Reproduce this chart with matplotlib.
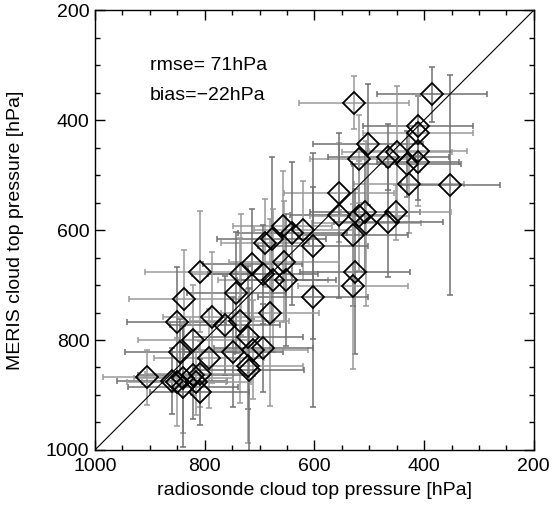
# MERIS vs radiosonde cloud top pressure scatter
import numpy as np
import matplotlib
matplotlib.use("Agg")
import matplotlib.pyplot as plt

plt.rcParams['font.family'] = ['Liberation Sans', 'DejaVu Sans']

# radiosonde (x) and MERIS (y) cloud top pressure, hPa
radiosonde = [386, 528, 411, 411, 502, 518, 465, 450, 432, 411, 411, 427, 352,
              555, 555, 518, 508, 505, 465, 451, 529, 658, 640, 620, 602, 690,
              678, 809, 713, 733, 693, 675, 651, 656, 526, 530, 602, 838, 742,
              681, 851, 786, 763, 736, 721, 821, 845, 792, 748, 711, 693, 721,
              719, 905, 860, 839, 821, 809, 839, 815, 809, 851]
meris = [353, 368, 411, 424, 444, 470, 467, 458, 479, 456, 476, 516, 518,
         532, 573, 575, 567, 588, 585, 568, 609, 593, 606, 600, 629, 623,
         617, 676, 662, 680, 680, 691, 690, 658, 676, 702, 722, 726, 714,
         750, 767, 759, 773, 765, 795, 800, 821, 833, 821, 818, 815, 848,
         855, 868, 875, 870, 864, 861, 885, 876, 894, 876]
radiosonde_err = [100, 100, 100, 100, 100, 90, 110, 100, 100, 90, 75, 100, 90,
                  100, 90, 90, 100, 100, 100, 100, 100, 90, 100, 90, 100, 80,
                  100, 100, 90, 90, 100, 100, 90, 100, 100, 100, 100, 100, 90,
                  90, 90, 90, 100, 90, 100, 100, 100, 100, 90, 100, 90, 100,
                  100, 80, 100, 90, 100, 100, 100, 100, 90, 90]
meris_err = [50, 48, 55, 70, 110, 80, 60, 120, 60, 100, 70, 90, 200,
             90, 150, 100, 110, 150, 100, 50, 130, 100, 130, 90, 170, 80,
             150, 110, 100, 110, 90, 130, 120, 110, 150, 150, 200, 90, 110,
             170, 100, 120, 90, 150, 130, 100, 60, 90, 100, 90, 80, 140,
             150, 50, 60, 100, 80, 60, 110, 60, 60, 80]

fig = plt.figure(figsize=(5.52, 5.09), dpi=100)
ax = fig.add_axes([0.172, 0.116, 0.795, 0.864])

shades = ['#707070', '#9a9a9a']
for i in range(len(radiosonde)):
    ax.errorbar(radiosonde[i], meris[i], xerr=radiosonde_err[i], yerr=meris_err[i],
                fmt='none', ecolor=shades[i % 2], elinewidth=1.1, capsize=2.5,
                capthick=1.1, zorder=2)

ax.plot(radiosonde, meris, linestyle='none', marker='D', markersize=11,
        markerfacecolor='none', markeredgecolor='black', markeredgewidth=1.3,
        zorder=3)

ax.plot([1000, 200], [1000, 200], color='black', linewidth=0.8, zorder=4)

ax.set_xlim(1000, 200)
ax.set_ylim(1000, 200)
ax.set_xticks([1000, 800, 600, 400, 200])
ax.set_yticks([1000, 800, 600, 400, 200])
ax.set_xticks(np.arange(200, 1001, 50), minor=True)
ax.set_yticks(np.arange(200, 1001, 50), minor=True)
ax.tick_params(which='both', direction='in', top=True, right=True, labelsize=14)
ax.tick_params(which='major', length=7, width=1)
ax.tick_params(which='minor', length=3.5, width=1)
ax.tick_params(axis='x', which='major', pad=6)
ax.tick_params(axis='y', which='major', pad=4)
for lab in ax.get_yticklabels():
    lab.set_verticalalignment('center_baseline')
for s in ax.spines.values():
    s.set_linewidth(1)

ax.text(900, 300, 'rmse= 71hPa', fontsize=14, va='center', ha='left')
ax.text(900, 356, 'bias=\u221222hPa', fontsize=14, va='center', ha='left')

ax.set_xlabel('radiosonde cloud top pressure [hPa]', fontsize=14, labelpad=5)
ax.set_ylabel('MERIS cloud top pressure [hPa]', fontsize=14, labelpad=16)

fig.savefig('out.png', dpi=100)
